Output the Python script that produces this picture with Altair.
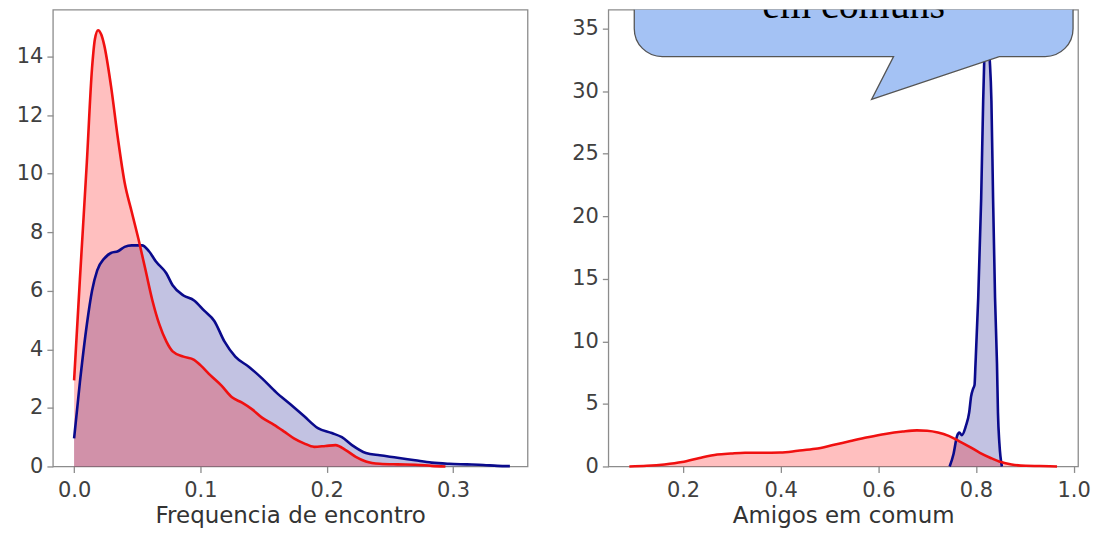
import altair as alt
import pandas as pd

# ---------------- data ----------------
freq_red_x = [0.0, 0.0046, 0.0101, 0.0142, 0.0165, 0.019, 0.0215, 0.0238, 0.0292, 0.0347, 0.040,
              0.0456, 0.051, 0.0566, 0.062, 0.0675, 0.073, 0.078, 0.0866, 0.095, 0.100, 0.108,
              0.1167, 0.125, 0.133, 0.141, 0.149, 0.158, 0.166, 0.174, 0.182, 0.190, 0.199,
              0.207, 0.215, 0.223, 0.231, 0.242, 0.256, 0.270, 0.283, 0.294]
freq_red_y = [2.94, 6.4, 10.4, 13.6, 14.6, 14.9, 14.75, 14.4, 13.0, 11.2, 9.7,
              8.7, 7.76, 6.7, 5.67, 4.85, 4.27, 3.93, 3.75, 3.64, 3.46, 3.11,
              2.76, 2.36, 2.18, 1.95, 1.66, 1.43, 1.2, 0.96, 0.79, 0.67, 0.70,
              0.73, 0.56, 0.33, 0.17, 0.09, 0.07, 0.06, 0.02, 0.0]

freq_blue_x = [0.0, 0.0046, 0.0101, 0.0142, 0.0183, 0.0238, 0.0292, 0.0347, 0.040, 0.0456,
               0.0538, 0.0593, 0.0648, 0.073, 0.078, 0.0866, 0.095, 0.103, 0.111, 0.119,
               0.1276, 0.1385, 0.149, 0.160, 0.171, 0.182, 0.193, 0.204, 0.212, 0.220,
               0.231, 0.242, 0.256, 0.270, 0.283, 0.297, 0.311, 0.324, 0.335, 0.345]
freq_blue_y = [0.96, 2.88, 4.85, 6.0, 6.7, 7.1, 7.29, 7.35, 7.5, 7.55,
               7.55, 7.35, 7.0, 6.6, 6.19, 5.84, 5.67, 5.32, 4.97, 4.27,
               3.75, 3.4, 3.0, 2.53, 2.13, 1.72, 1.31, 1.14, 1.0, 0.73,
               0.46, 0.38, 0.30, 0.21, 0.13, 0.09, 0.07, 0.05, 0.02, 0.01]

amig_red_x = [0.090, 0.126, 0.162, 0.198, 0.234, 0.270, 0.298, 0.327, 0.363, 0.399,
              0.435, 0.471, 0.507, 0.543, 0.578, 0.614, 0.650, 0.679, 0.700, 0.722,
              0.744, 0.765, 0.787, 0.808, 0.830, 0.851, 0.873, 0.902, 0.930, 0.966]
amig_red_y = [0.0, 0.05, 0.16, 0.35, 0.68, 0.95, 1.03, 1.09, 1.09, 1.11,
              1.25, 1.41, 1.71, 2.03, 2.33, 2.6, 2.79, 2.88, 2.85, 2.71,
              2.44, 2.03, 1.57, 1.09, 0.68, 0.35, 0.16, 0.05, 0.03, 0.0]

amig_blue_x = [0.746, 0.754, 0.761, 0.766, 0.771, 0.779, 0.786, 0.790, 0.794, 0.797,
               0.799, 0.8046, 0.8106, 0.8147, 0.817, 0.8195, 0.822, 0.8245, 0.828,
               0.8316, 0.835, 0.839, 0.843, 0.845, 0.848, 0.853]
amig_blue_y = [0.0, 1.0, 2.4, 2.7, 2.5, 3.2, 4.3, 5.6, 6.2, 6.5,
               8.2, 13.5, 21.4, 29.2, 32.6, 34.6, 35.0, 34.6, 32.6,
               29.2, 21.4, 13.5, 8.2, 4.3, 1.8, 0.0]

left_xticks = [0.0, 0.1, 0.2, 0.3]
left_yticks = [0, 2, 4, 6, 8, 10, 12, 14]
right_xticks = [0.2, 0.4, 0.6, 0.8, 1.0]
right_yticks = [0, 5, 10, 15, 20, 25, 30, 35]

left_title = "Frequencia de encontro"
right_title = "Amigos em comum"
bubble_text = "em comuns"

RED = "#f01010"
BLUE = "#0a0a8c"
PLOT_H = 458
RIGHT_W = 471


def panel(rx, ry, bx, by, xdom, ydom, xticks, yticks, xtitle):
    df_r = pd.DataFrame({"x": rx, "y": ry})
    df_b = pd.DataFrame({"x": bx, "y": by})
    xenc = alt.X("x:Q", scale=alt.Scale(domain=xdom, nice=False, zero=False),
                 axis=alt.Axis(values=xticks, format=".1f", title=xtitle))
    yenc = alt.Y("y:Q", scale=alt.Scale(domain=ydom, nice=False, zero=False),
                 axis=alt.Axis(values=yticks, format="d", title=None))
    b_area = alt.Chart(df_b).mark_area(color=BLUE, opacity=0.25, interpolate="monotone").encode(x=xenc, y=yenc)
    r_area = alt.Chart(df_r).mark_area(color="red", opacity=0.25, interpolate="monotone").encode(x=xenc, y=yenc)
    b_line = alt.Chart(df_b).mark_line(color=BLUE, strokeWidth=2.6, interpolate="monotone").encode(x=xenc, y=yenc)
    r_line = alt.Chart(df_r).mark_line(color=RED, strokeWidth=2.6, interpolate="monotone").encode(x=xenc, y=yenc)
    return [b_area, r_area, b_line, r_line]


left = alt.layer(*panel(freq_red_x, freq_red_y, freq_blue_x, freq_blue_y,
                        [-0.0168, 0.359], [0, 15.6], left_xticks, left_yticks, left_title)
                 ).properties(width=476, height=PLOT_H)

# speech bubble (annotation drawn in the right panel's pixel space)
bubble_path = ("M 26 -80 L 466 -80 L 466 19 A 28 28 0 0 1 438 47 L 392 47 L 264 90 "
               "L 286 47 L 54 47 A 28 28 0 0 1 26 19 Z")
bubble = alt.Chart(pd.DataFrame({"a": [0]})).mark_point(
    shape=bubble_path, size=4, filled=True, fill="#a4c2f4", stroke="#555555",
    strokeWidth=1.3, opacity=1, fillOpacity=1, strokeOpacity=1, clip=True
).encode(x=alt.value(0), y=alt.value(0))
bubble_label = alt.Chart(pd.DataFrame({"t": [bubble_text]})).mark_text(
    font="Liberation Serif", fontSize=40, color="black", align="center",
    baseline="alphabetic", clip=True
).encode(text="t:N", x=alt.value(246), y=alt.value(8))

right_layers = panel(amig_red_x, amig_red_y, amig_blue_x, amig_blue_y,
                     [0.047, 1.009], [0, 36.5], right_xticks, right_yticks, right_title)
right = alt.layer(*right_layers, bubble, bubble_label).properties(width=RIGHT_W, height=PLOT_H)

chart = alt.hconcat(left, right, spacing=35).properties(
    padding={"left": 0, "top": 0, "right": 0, "bottom": 0}
).configure_view(
    stroke="#8c8c8c", strokeWidth=1.3
).configure_axis(
    grid=False, domain=False, tickColor="#8c8c8c", tickSize=6, tickWidth=1.3,
    labelFont="DejaVu Sans", labelFontSize=21, labelColor="#404040", labelFlush=False,
    titleFont="DejaVu Sans", titleFontSize=23, titleColor="#333333", titleFontWeight="normal"
).configure_axisX(
    labelPadding=7, titlePadding=4
).configure_axisY(
    labelPadding=4, minExtent=44, maxExtent=44
)

chart.save("out.html", embed_options={"renderer": "svg", "actions": False})
